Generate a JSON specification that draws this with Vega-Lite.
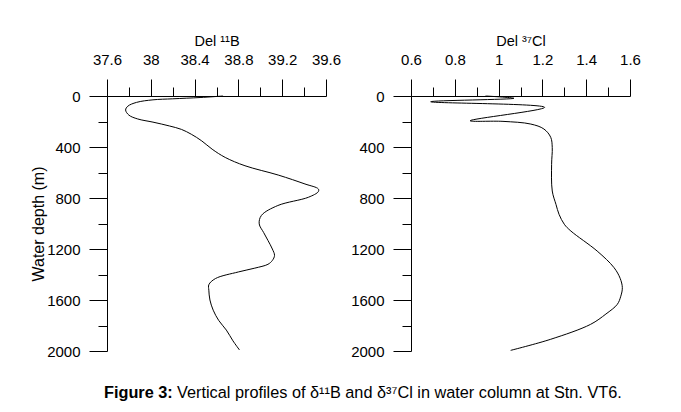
{
  "$schema": "https://vega.github.io/schema/vega-lite/v6.json",
  "background": "white",
  "padding": {"left": 30, "top": 33, "right": 5, "bottom": 5},
  "config": {
    "view": {"stroke": null},
    "font": "Liberation Sans",
    "axis": {
      "domainColor": "black", "domainWidth": 1,
      "tickColor": "black", "tickWidth": 1,
      "labelColor": "black", "labelFontSize": 15, "labelFont": "Liberation Sans",
      "titleColor": "black", "titleFontSize": 14.5, "titleFontWeight": "normal", "titleFont": "Liberation Sans",
      "grid": false, "labelFlush": false, "labelOverlap": false
    }
  },
  "datasets": {
    "boron": [
      {"depth": 0, "d11B": 38.66},
      {"depth": 12, "d11B": 38.45},
      {"depth": 22, "d11B": 38.2},
      {"depth": 30, "d11B": 38.02},
      {"depth": 50, "d11B": 37.87},
      {"depth": 80, "d11B": 37.79},
      {"depth": 110, "d11B": 37.77},
      {"depth": 150, "d11B": 37.8},
      {"depth": 180, "d11B": 37.88},
      {"depth": 205, "d11B": 38.02},
      {"depth": 235, "d11B": 38.17},
      {"depth": 262, "d11B": 38.28},
      {"depth": 300, "d11B": 38.37},
      {"depth": 352, "d11B": 38.465},
      {"depth": 417, "d11B": 38.56},
      {"depth": 482, "d11B": 38.68},
      {"depth": 547, "d11B": 38.86},
      {"depth": 620, "d11B": 39.164},
      {"depth": 690, "d11B": 39.408},
      {"depth": 729, "d11B": 39.53},
      {"depth": 750, "d11B": 39.53},
      {"depth": 794, "d11B": 39.44},
      {"depth": 859, "d11B": 39.16},
      {"depth": 937, "d11B": 39.01},
      {"depth": 1003, "d11B": 38.99},
      {"depth": 1070, "d11B": 39.03},
      {"depth": 1133, "d11B": 39.07},
      {"depth": 1200, "d11B": 39.11},
      {"depth": 1250, "d11B": 39.13},
      {"depth": 1290, "d11B": 39.11},
      {"depth": 1320, "d11B": 39.07},
      {"depth": 1350, "d11B": 38.95},
      {"depth": 1380, "d11B": 38.8},
      {"depth": 1432, "d11B": 38.59},
      {"depth": 1480, "d11B": 38.53},
      {"depth": 1523, "d11B": 38.53},
      {"depth": 1600, "d11B": 38.54},
      {"depth": 1680, "d11B": 38.57},
      {"depth": 1760, "d11B": 38.62},
      {"depth": 1836, "d11B": 38.69},
      {"depth": 1920, "d11B": 38.75},
      {"depth": 1992, "d11B": 38.81}
    ],
    "chlorine": [
      {"depth": 0, "d37Cl": 0.94},
      {"depth": 18, "d37Cl": 1.07},
      {"depth": 45, "d37Cl": 0.69},
      {"depth": 89, "d37Cl": 1.21},
      {"depth": 194, "d37Cl": 0.87},
      {"depth": 199, "d37Cl": 1.02},
      {"depth": 220, "d37Cl": 1.147},
      {"depth": 259, "d37Cl": 1.207},
      {"depth": 324, "d37Cl": 1.238},
      {"depth": 405, "d37Cl": 1.245},
      {"depth": 536, "d37Cl": 1.242},
      {"depth": 745, "d37Cl": 1.245},
      {"depth": 850, "d37Cl": 1.262},
      {"depth": 928, "d37Cl": 1.276},
      {"depth": 1006, "d37Cl": 1.3},
      {"depth": 1059, "d37Cl": 1.33},
      {"depth": 1216, "d37Cl": 1.45},
      {"depth": 1346, "d37Cl": 1.527},
      {"depth": 1430, "d37Cl": 1.555},
      {"depth": 1503, "d37Cl": 1.565},
      {"depth": 1570, "d37Cl": 1.558},
      {"depth": 1634, "d37Cl": 1.542},
      {"depth": 1710, "d37Cl": 1.49},
      {"depth": 1791, "d37Cl": 1.42},
      {"depth": 1908, "d37Cl": 1.238},
      {"depth": 1995, "d37Cl": 1.055}
    ]
  },
  "spacing": 24,
  "vconcat": [
    {
      "spacing": 9,
      "hconcat": [
        {
          "width": 219, "height": 255,
          "data": {"name": "boron"},
          "layer": [
            {
              "mark": {"type": "line", "interpolate": "catmull-rom", "color": "black", "strokeWidth": 1},
              "encoding": {
                "x": {"field": "d11B", "type": "quantitative",
                  "scale": {"domain": [37.6, 39.6], "nice": false, "zero": false},
                  "axis": {"orient": "top", "title": "Del ¹¹B", "values": [37.6, 38, 38.4, 38.8, 39.2, 39.6], "format": "~g", "tickSize": 17, "labelPadding": 12, "titlePadding": 4}},
                "y": {"field": "depth", "type": "quantitative",
                  "scale": {"domain": [0, 2000], "reverse": true, "nice": false, "zero": false},
                  "axis": {"orient": "left", "title": "Water depth (m)", "titleFontSize": 16, "values": [0, 400, 800, 1200, 1600, 2000], "format": "d", "tickSize": 18, "labelPadding": 9, "titlePadding": 0}},
                "order": {"field": "depth", "type": "quantitative"}
              }
            },
            {
              "mark": {"type": "line", "opacity": 0},
              "encoding": {
                "x": {"field": "d11B", "type": "quantitative",
                  "scale": {"domain": [37.6, 39.6], "nice": false, "zero": false},
                  "axis": {"orient": "top", "title": null, "values": [37.8, 38.2, 38.6, 39.0, 39.4], "labels": false, "domain": false, "tickSize": 9}},
                "y": {"field": "depth", "type": "quantitative",
                  "scale": {"domain": [0, 2000], "reverse": true, "nice": false, "zero": false},
                  "axis": {"orient": "left", "title": null, "values": [200, 600, 1000, 1400, 1800], "labels": false, "domain": false, "tickSize": 9}},
                "order": {"field": "depth", "type": "quantitative"}
              }
            }
          ],
          "resolve": {"axis": {"x": "independent", "y": "independent"}}
        },
        {
          "width": 219, "height": 255,
          "data": {"name": "chlorine"},
          "layer": [
            {
              "mark": {"type": "line", "interpolate": "catmull-rom", "color": "black", "strokeWidth": 1},
              "encoding": {
                "x": {"field": "d37Cl", "type": "quantitative",
                  "scale": {"domain": [0.6, 1.6], "nice": false, "zero": false},
                  "axis": {"orient": "top", "title": "Del ³⁷Cl", "values": [0.6, 0.8, 1, 1.2, 1.4, 1.6], "format": "~g", "tickSize": 17, "labelPadding": 12, "titlePadding": 4}},
                "y": {"field": "depth", "type": "quantitative",
                  "scale": {"domain": [0, 2000], "reverse": true, "nice": false, "zero": false},
                  "axis": {"orient": "left", "title": null, "values": [0, 400, 800, 1200, 1600, 2000], "format": "d", "tickSize": 18, "labelPadding": 9}},
                "order": {"field": "depth", "type": "quantitative"}
              }
            },
            {
              "mark": {"type": "line", "opacity": 0},
              "encoding": {
                "x": {"field": "d37Cl", "type": "quantitative",
                  "scale": {"domain": [0.6, 1.6], "nice": false, "zero": false},
                  "axis": {"orient": "top", "title": null, "values": [0.7, 0.9, 1.1, 1.3, 1.5], "labels": false, "domain": false, "tickSize": 9}},
                "y": {"field": "depth", "type": "quantitative",
                  "scale": {"domain": [0, 2000], "reverse": true, "nice": false, "zero": false},
                  "axis": {"orient": "left", "title": null, "values": [200, 600, 1000, 1400, 1800], "labels": false, "domain": false, "tickSize": 9}},
                "order": {"field": "depth", "type": "quantitative"}
              }
            }
          ],
          "resolve": {"axis": {"x": "independent", "y": "independent"}}
        }
      ]
    },
    {
      "width": 600, "height": 20,
      "data": {"values": [{"bold": "Figure 3:", "rest": "Vertical profiles of δ¹¹B and δ³⁷Cl in water column at Stn. VT6."}]},
      "layer": [
        {"mark": {"type": "text", "align": "left", "baseline": "middle", "dx": -303, "fontSize": 16.3, "fontWeight": "bold", "color": "black", "font": "Liberation Sans"},
         "encoding": {"text": {"field": "bold", "type": "nominal"}}},
        {"mark": {"type": "text", "align": "left", "baseline": "middle", "dx": -230, "fontSize": 16.3, "color": "black", "font": "Liberation Sans"},
         "encoding": {"text": {"field": "rest", "type": "nominal"}}}
      ]
    }
  ]
}
